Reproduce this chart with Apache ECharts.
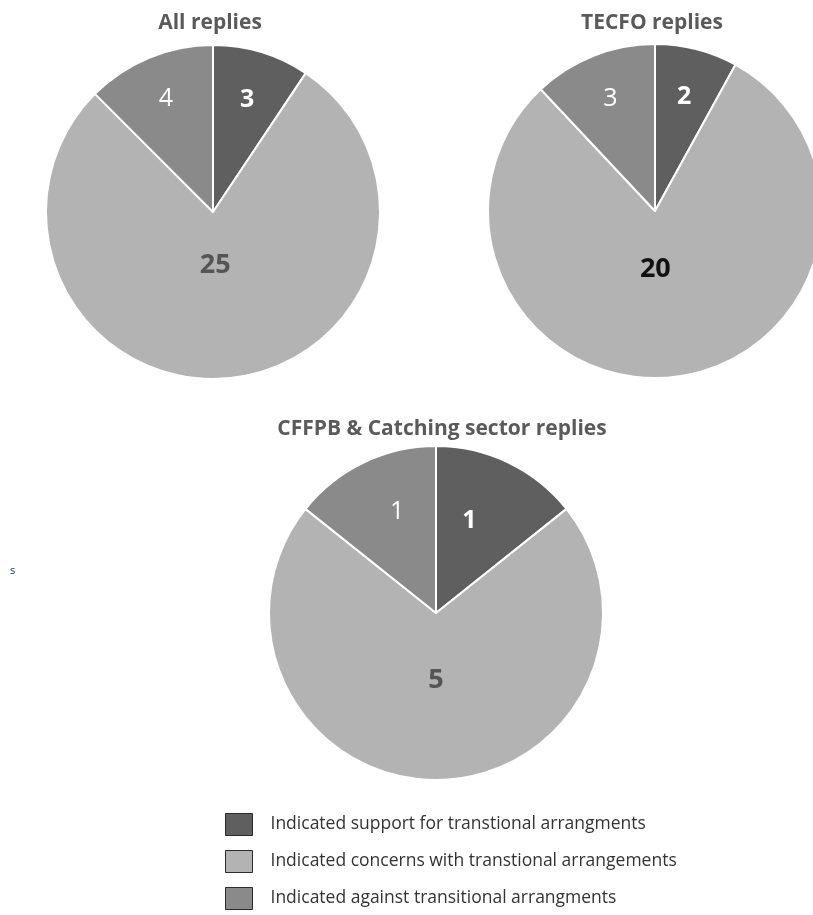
<!DOCTYPE html>
<html>
<head>
<meta charset="utf-8">
<script src="https://cdn.jsdelivr.net/npm/echarts@6/dist/echarts.min.js"></script>
<style>
html,body{margin:0;padding:0;background:#fff;}
#chart{width:813px;height:915px;}
</style>
</head>
<body>
<div id="chart"></div>
<script>
// ---- data ----
const categories = [
  'Indicated support for transtional arrangments',
  'Indicated concerns with transtional arrangements',
  'Indicated against transitional arrangments'
];
const chartTitles = ['All replies', 'TECFO replies', 'CFFPB & Catching sector replies'];
const allReplies = [3, 25, 4];
const tecfoReplies = [2, 20, 3];
const cffpbReplies = [1, 5, 1];

// ---- style ----
const colors = ['#5f5f5f', '#b3b3b3', '#8a8a8a'];
const centers = [[213, 212], [655, 211], [436, 613]];
const radius = 167;
const titlePos = [[205, 8], [647, 8], [437, 414]];
// radial position of each label as a fraction of the radius
const labelFrac = [[0.68, 0.31, 0.71], [0.68, 0.34, 0.70], [0.59, 0.39, 0.65]];
// small horizontal nudges for labels (px)
const labelNudge = [[0, -3, 0], [0, -7, 0], [-11, 0, 10]];
const bigLabelColor = ['#555555', '#111111', '#555555'];
const FONT = '"Open Sans", "DejaVu Sans", sans-serif';

const seriesData = [allReplies, tecfoReplies, cffpbReplies];

const chart = echarts.init(document.getElementById('chart'), null, {renderer: 'canvas'});

const series = seriesData.map((vals, si) => ({
  type: 'pie',
  name: chartTitles[si],
  center: centers[si],
  radius: [0, radius],
  startAngle: 90,
  clockwise: true,
  silent: true,
  animation: false,
  itemStyle: {borderColor: '#ffffff', borderWidth: 2},
  label: {position: 'inside', formatter: '{c}', fontFamily: FONT},
  labelLine: {show: false},
  emphasis: {disabled: true},
  data: vals.map((v, i) => ({
    name: categories[i],
    value: v,
    itemStyle: {color: colors[i]},
    label: i === 0 ? {color: '#ffffff', fontWeight: 'bold', fontSize: 25}
         : i === 1 ? {color: bigLabelColor[si], fontWeight: 'bold', fontSize: 27}
         : {color: '#ffffff', fontWeight: 'normal', fontSize: 25}
  })),
  labelLayout: function (p) {
    const c = centers[si];
    const lx = p.labelRect.x + p.labelRect.width / 2;
    const ly = p.labelRect.y + p.labelRect.height / 2;
    const k = labelFrac[si][p.dataIndex] / 0.5;
    return {dx: (lx - c[0]) * (k - 1) + labelNudge[si][p.dataIndex], dy: (ly - c[1]) * (k - 1)};
  }
}));

const option = {
  backgroundColor: '#ffffff',
  animation: false,
  color: colors,
  title: chartTitles.map((t, i) => ({
    text: t,
    left: titlePos[i][0],
    top: titlePos[i][1],
    textAlign: 'center',
    textStyle: {fontFamily: FONT, fontWeight: 'bold', fontSize: 21, color: '#5a5a5a'}
  })),
  legend: {
    orient: 'vertical',
    left: 225,
    top: 813,
    height: 110,
    padding: 0,
    icon: 'rect',
    itemWidth: 27,
    itemHeight: 22,
    itemGap: 14,
    selectedMode: false,
    data: categories,
    itemStyle: {borderColor: '#2b2b2b', borderWidth: 1},
    textStyle: {fontFamily: FONT, fontSize: 17.5, color: '#333333', padding: [0, 0, 0, 13]}
  },
  graphic: [{
    type: 'text',
    left: 10,
    top: 565,
    style: {text: 's', fontFamily: FONT, fontSize: 11, fill: '#1f3864'}
  }],
  series: series
};
chart.setOption(option);
</script>
</body>
</html>
